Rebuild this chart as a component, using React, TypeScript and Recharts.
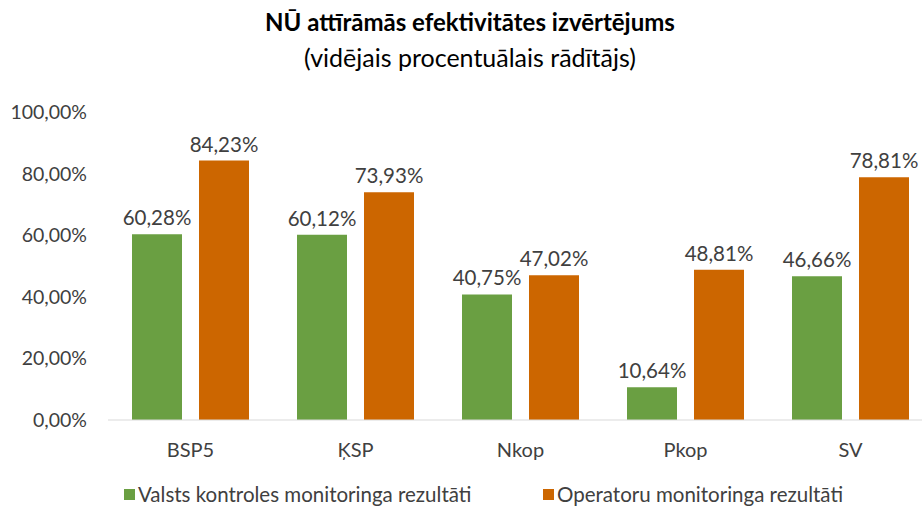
import { BarChart, Bar, XAxis, YAxis, LabelList } from "recharts";

const categories = ["BSP5", "ĶSP", "Nkop", "Pkop", "SV"];
const valstsValues = [60.28, 60.12, 40.75, 10.64, 46.66];
const operatoruValues = [84.23, 73.93, 47.02, 48.81, 78.81];
const yTicks = [0, 20, 40, 60, 80, 100];

const seriesNames = {
  valsts: "Valsts kontroles monitoringa rezultāti",
  operatoru: "Operatoru monitoringa rezultāti",
};

const GREEN = "#6A9F42";
const ORANGE = "#CC6600";
const FONT = "Lato, 'Open Sans', sans-serif";

const data = categories.map((name, i) => ({
  name,
  valsts: valstsValues[i],
  operatoru: operatoruValues[i],
}));

const pct = (v: number) => `${v.toFixed(2).replace(".", ",")}%`;

const legendItems = [
  { label: seriesNames.valsts, color: GREEN, left: 124 },
  { label: seriesNames.operatoru, color: ORANGE, left: 543 },
];

export default function App() {
  return (
    <div
      style={{
        position: "absolute",
        left: 0,
        top: 0,
        width: 922,
        height: 506,
        overflow: "hidden",
        background: "#fff",
        fontFamily: FONT,
      }}
    >
      <div
        style={{
          position: "absolute",
          left: 0,
          width: 940,
          top: 6,
          textAlign: "center",
          fontSize: 24,
          fontWeight: 700,
          color: "#000",
          lineHeight: "32px",
        }}
      >
        NŪ attīrāmās efektivitātes izvērtējums
      </div>
      <div
        style={{
          position: "absolute",
          left: 0,
          width: 940,
          top: 41,
          textAlign: "center",
          fontSize: 25,
          color: "#000",
          lineHeight: "32px",
        }}
      >
        (vidējais procentuālais rādītājs)
      </div>
      <BarChart
        width={940}
        height={506}
        data={data}
        margin={{ top: 112, right: 7, bottom: 46, left: 10 }}
        barSize={50}
        barGap={17}
        style={{ position: "absolute", left: 0, top: 0 }}
      >
        <XAxis
          dataKey="name"
          axisLine={{ stroke: "#d9d9d9", strokeWidth: 1 }}
          tickLine={false}
          tickSize={6}
          tickMargin={17}
          height={40}
          tick={{ fontSize: 20, fill: "#404040", fontFamily: FONT }}
        />
        <YAxis
          width={98}
          domain={[0, 100]}
          ticks={yTicks}
          axisLine={false}
          tickLine={false}
          tickSize={6}
          tickMargin={15}
          tickFormatter={pct}
          tick={{ fontSize: 19.5, fill: "#404040", fontFamily: FONT }}
        />
        <Bar dataKey="valsts" name={seriesNames.valsts} fill={GREEN} isAnimationActive={false}>
          <LabelList
            dataKey="valsts"
            position="top"
            offset={9}
            formatter={(v: number) => pct(v)}
            style={{ fontSize: 20.5, fill: "#404040", fontFamily: FONT }}
          />
        </Bar>
        <Bar dataKey="operatoru" name={seriesNames.operatoru} fill={ORANGE} isAnimationActive={false}>
          <LabelList
            dataKey="operatoru"
            position="top"
            offset={9}
            formatter={(v: number) => pct(v)}
            style={{ fontSize: 20.5, fill: "#404040", fontFamily: FONT }}
          />
        </Bar>
      </BarChart>
      {legendItems.map((it) => (
        <div
          key={it.label}
          style={{
            position: "absolute",
            left: it.left,
            top: 481,
            display: "flex",
            alignItems: "center",
            whiteSpace: "nowrap",
            height: 26,
          }}
        >
          <span
            style={{
              width: 11,
              height: 11,
              background: it.color,
              display: "inline-block",
              marginRight: 3,
            }}
          />
          <span style={{ fontSize: 20.5, color: "#404040", lineHeight: "26px" }}>
            {it.label}
          </span>
        </div>
      ))}
    </div>
  );
}
